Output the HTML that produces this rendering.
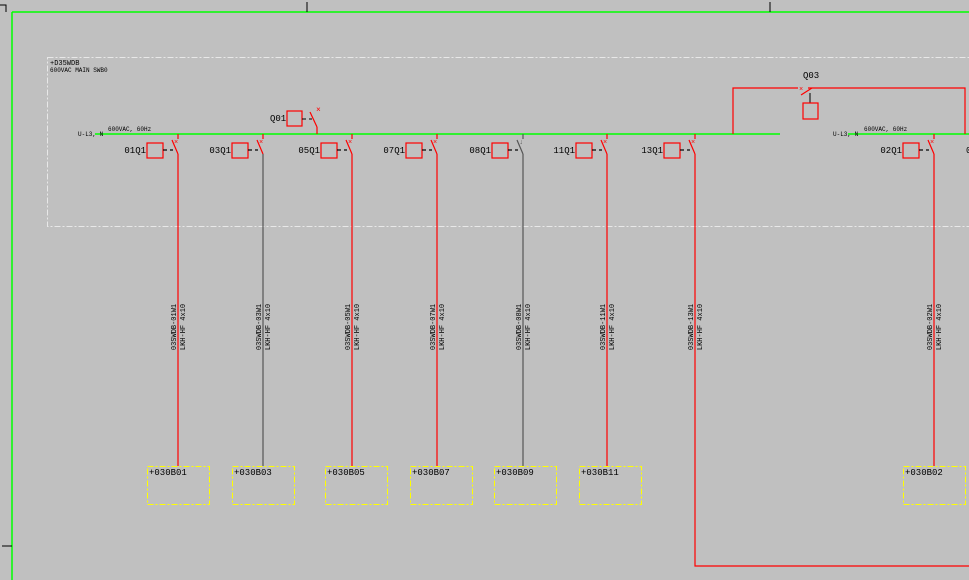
<!DOCTYPE html>
<html><head><meta charset="utf-8"><style>
html,body{margin:0;padding:0;background:#c0c0c0;}
svg{display:block;font-family:"Liberation Mono",monospace;}
</style></head><body>
<svg width="969" height="580" viewBox="0 0 969 580" xmlns="http://www.w3.org/2000/svg">
<rect width="969" height="580" fill="#c0c0c0"/>
<!-- frame -->
<line x1="12" y1="12" x2="969" y2="12" stroke="#00ff00" stroke-width="1.5"/>
<line x1="12" y1="12" x2="12" y2="580" stroke="#00ff00" stroke-width="1.5"/>
<path d="M0 5H6V12" stroke="#000" fill="none"/>
<line x1="307" y1="2" x2="307" y2="12" stroke="#000"/>
<line x1="770" y1="2" x2="770" y2="12" stroke="#000"/>
<line x1="2" y1="546" x2="12" y2="546" stroke="#000"/>
<!-- dashed board -->
<rect x="47.5" y="57.5" width="930" height="169" fill="none" stroke="#e8e8e8" stroke-dasharray="6,2,2,2"/>
<text x="50" y="65" font-size="7" fill="#000">+D35WDB</text>
<text x="50" y="72" font-size="6" fill="#000">600VAC MAIN SWB0</text>
<!-- busbars -->
<line x1="95" y1="134" x2="780" y2="134" stroke="#00ff00" stroke-width="1.5"/>
<line x1="848" y1="134" x2="969" y2="134" stroke="#00ff00" stroke-width="1.5"/>
<text x="78" y="136" font-size="6" fill="#000">U-L3, N</text>
<text x="108" y="131" font-size="6" fill="#000">600VAC, 60Hz</text>
<text x="833" y="136" font-size="6" fill="#000">U-L3, N</text>
<text x="864" y="131" font-size="6" fill="#000">600VAC, 60Hz</text>
<!-- Q01 -->
<rect x="287" y="111" width="15" height="15" fill="none" stroke="#f00" stroke-width="1.2"/>
<line x1="302" y1="119" x2="306" y2="119" stroke="#000"/>
<line x1="309" y1="119" x2="312" y2="119" stroke="#000"/>
<line x1="310" y1="112" x2="317" y2="127" stroke="#f00" stroke-width="1.2"/>
<line x1="317" y1="127" x2="317" y2="134" stroke="#f00" stroke-width="1.2"/>
<text x="316" y="112" font-size="8" fill="#f00">×</text>
<text x="270" y="121" font-size="9" fill="#000">Q01</text>
<!-- Q03 -->
<path d="M733 134V88H798M808 88H965V134" fill="none" stroke="#f00" stroke-width="1.2"/>
<line x1="801" y1="95" x2="812" y2="88" stroke="#f00" stroke-width="1.2"/>
<text x="799" y="91" font-size="7" fill="#f00">×</text>
<line x1="810" y1="93" x2="810" y2="103" stroke="#000"/>
<rect x="803" y="103" width="15" height="16" fill="none" stroke="#f00" stroke-width="1.2"/>
<text x="803" y="78" font-size="9" fill="#000">Q03</text>
<!-- branches -->
<g id="b" font-size="9" fill="#000">
</g>
<g stroke-width="1.2" fill="none">
<!-- template per branch -->
<g transform="translate(178,0)"><rect x="-31" y="143" width="16" height="15" stroke="#f00"/><line x1="-15" y1="150" x2="-11" y2="150" stroke="#000"/><line x1="-8" y1="150" x2="-5" y2="150" stroke="#000"/><line x1="0" y1="134" x2="0" y2="139" stroke="#f00"/><line x1="-6" y1="140" x2="0" y2="154" stroke="#f00"/><line x1="0" y1="154" x2="0" y2="466" stroke="#f00"/></g>
<g transform="translate(263,0)"><rect x="-31" y="143" width="16" height="15" stroke="#f00"/><line x1="-15" y1="150" x2="-11" y2="150" stroke="#000"/><line x1="-8" y1="150" x2="-5" y2="150" stroke="#000"/><line x1="0" y1="134" x2="0" y2="139" stroke="#f00"/><line x1="-6" y1="140" x2="0" y2="154" stroke="#f00"/><line x1="0" y1="154" x2="0" y2="466" stroke="#555"/></g>
<g transform="translate(352,0)"><rect x="-31" y="143" width="16" height="15" stroke="#f00"/><line x1="-15" y1="150" x2="-11" y2="150" stroke="#000"/><line x1="-8" y1="150" x2="-5" y2="150" stroke="#000"/><line x1="0" y1="134" x2="0" y2="139" stroke="#f00"/><line x1="-6" y1="140" x2="0" y2="154" stroke="#f00"/><line x1="0" y1="154" x2="0" y2="466" stroke="#f00"/></g>
<g transform="translate(437,0)"><rect x="-31" y="143" width="16" height="15" stroke="#f00"/><line x1="-15" y1="150" x2="-11" y2="150" stroke="#000"/><line x1="-8" y1="150" x2="-5" y2="150" stroke="#000"/><line x1="0" y1="134" x2="0" y2="139" stroke="#f00"/><line x1="-6" y1="140" x2="0" y2="154" stroke="#f00"/><line x1="0" y1="154" x2="0" y2="466" stroke="#f00"/></g>
<g transform="translate(523,0)"><rect x="-31" y="143" width="16" height="15" stroke="#f00"/><line x1="-15" y1="150" x2="-11" y2="150" stroke="#000"/><line x1="-8" y1="150" x2="-5" y2="150" stroke="#000"/><line x1="0" y1="134" x2="0" y2="139" stroke="#555"/><line x1="-6" y1="140" x2="0" y2="154" stroke="#555"/><line x1="0" y1="154" x2="0" y2="466" stroke="#555"/></g>
<g transform="translate(607,0)"><rect x="-31" y="143" width="16" height="15" stroke="#f00"/><line x1="-15" y1="150" x2="-11" y2="150" stroke="#000"/><line x1="-8" y1="150" x2="-5" y2="150" stroke="#000"/><line x1="0" y1="134" x2="0" y2="139" stroke="#f00"/><line x1="-6" y1="140" x2="0" y2="154" stroke="#f00"/><line x1="0" y1="154" x2="0" y2="466" stroke="#f00"/></g>
<g transform="translate(695,0)"><rect x="-31" y="143" width="16" height="15" stroke="#f00"/><line x1="-15" y1="150" x2="-11" y2="150" stroke="#000"/><line x1="-8" y1="150" x2="-5" y2="150" stroke="#000"/><line x1="0" y1="134" x2="0" y2="139" stroke="#f00"/><line x1="-6" y1="140" x2="0" y2="154" stroke="#f00"/><path d="M0 154V566H274" stroke="#f00"/></g>
<g transform="translate(934,0)"><rect x="-31" y="143" width="16" height="15" stroke="#f00"/><line x1="-15" y1="150" x2="-11" y2="150" stroke="#000"/><line x1="-8" y1="150" x2="-5" y2="150" stroke="#000"/><line x1="0" y1="134" x2="0" y2="139" stroke="#f00"/><line x1="-6" y1="140" x2="0" y2="154" stroke="#f00"/><line x1="0" y1="154" x2="0" y2="466" stroke="#f00"/></g>
</g>
<g font-size="7" fill="#f00">
<text x="174" y="144">×</text><text x="259" y="144">×</text><text x="348" y="144">×</text><text x="433" y="144">×</text><text x="519" y="144" fill="#555">↓</text><text x="603" y="144">×</text><text x="691" y="144">×</text><text x="930" y="144">×</text>
</g>
<g font-size="9" fill="#000" text-anchor="end">
<text x="146" y="153">01Q1</text><text x="231" y="153">03Q1</text><text x="320" y="153">05Q1</text><text x="405" y="153">07Q1</text><text x="491" y="153">08Q1</text><text x="575" y="153">11Q1</text><text x="663" y="153">13Q1</text><text x="902" y="153">02Q1</text>
</g>
<text x="966" y="153" font-size="9" fill="#000">0</text>
<!-- vertical labels -->
<g font-size="7" fill="#000" text-anchor="middle">
<text transform="translate(176,327) rotate(-90)">03SWDB-01W1</text><text transform="translate(185,327) rotate(-90)">LKH-HF 4x10</text>
<text transform="translate(261,327) rotate(-90)">03SWDB-03W1</text><text transform="translate(270,327) rotate(-90)">LKH-HF 4x10</text>
<text transform="translate(350,327) rotate(-90)">03SWDB-05W1</text><text transform="translate(359,327) rotate(-90)">LKH-HF 4x10</text>
<text transform="translate(435,327) rotate(-90)">03SWDB-07W1</text><text transform="translate(444,327) rotate(-90)">LKH-HF 4x10</text>
<text transform="translate(521,327) rotate(-90)">03SWDB-08W1</text><text transform="translate(530,327) rotate(-90)">LKH-HF 4x10</text>
<text transform="translate(605,327) rotate(-90)">03SWDB-11W1</text><text transform="translate(614,327) rotate(-90)">LKH-HF 4x10</text>
<text transform="translate(693,327) rotate(-90)">03SWDB-13W1</text><text transform="translate(702,327) rotate(-90)">LKH-HF 4x10</text>
<text transform="translate(932,327) rotate(-90)">03SWDB-02W1</text><text transform="translate(941,327) rotate(-90)">LKH-HF 4x10</text>
</g>
<!-- bottom boxes -->
<g fill="none" stroke="#ffff00" stroke-dasharray="6,2,2,2">
<rect x="147.5" y="466.5" width="62" height="38"/><rect x="232.5" y="466.5" width="62" height="38"/><rect x="325.5" y="466.5" width="62" height="38"/><rect x="410.5" y="466.5" width="62" height="38"/><rect x="494.5" y="466.5" width="62" height="38"/><rect x="579.5" y="466.5" width="62" height="38"/><rect x="903.5" y="466.5" width="62" height="38"/>
</g>
<g font-size="9" fill="#000">
<text x="149" y="475">+030B01</text><text x="234" y="475">+030B03</text><text x="327" y="475">+030B05</text><text x="412" y="475">+030B07</text><text x="496" y="475">+030B09</text><text x="581" y="475">+030B11</text><text x="905" y="475">+030B02</text>
</g>
</svg>
</body></html>
